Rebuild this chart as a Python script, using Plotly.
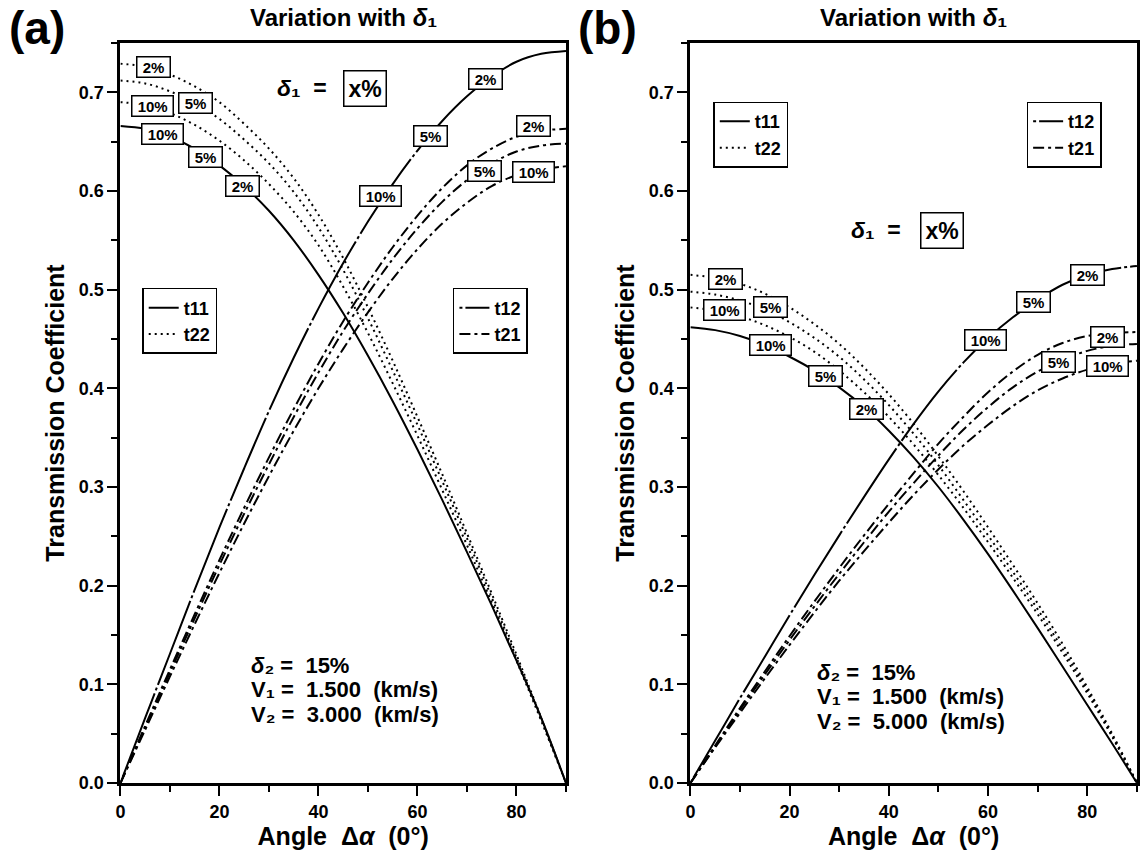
import plotly.graph_objects as go

ANG = [0, 5, 10, 15, 20, 25, 30, 35, 40, 45, 50, 55, 60, 65, 70, 75, 80, 85, 90]

# ---- panel (a): V1 = 1.5, V2 = 3.0 ----
A_T11 = [0.666, 0.663, 0.655, 0.643, 0.626, 0.605, 0.580, 0.550, 0.515, 0.476, 0.433, 0.387, 0.338, 0.287, 0.234, 0.180, 0.124, 0.066, 0.0]
A_T22_2 = [0.729, 0.726, 0.718, 0.706, 0.690, 0.668, 0.643, 0.613, 0.576, 0.532, 0.482, 0.428, 0.371, 0.313, 0.253, 0.192, 0.130, 0.066, 0.0]
A_T22_5 = [0.712, 0.709, 0.701, 0.689, 0.673, 0.652, 0.628, 0.599, 0.563, 0.520, 0.471, 0.418, 0.363, 0.306, 0.248, 0.188, 0.127, 0.065, 0.0]
A_T22_10 = [0.690, 0.687, 0.679, 0.667, 0.651, 0.631, 0.607, 0.579, 0.545, 0.503, 0.456, 0.405, 0.352, 0.297, 0.241, 0.183, 0.124, 0.063, 0.0]
A_T12 = [0.0, 0.066, 0.131, 0.196, 0.259, 0.319, 0.377, 0.431, 0.481, 0.527, 0.569, 0.607, 0.641, 0.671, 0.696, 0.716, 0.731, 0.739, 0.742]
A_T21_2 = [0.0, 0.058, 0.115, 0.171, 0.226, 0.279, 0.330, 0.379, 0.425, 0.468, 0.507, 0.543, 0.575, 0.603, 0.626, 0.643, 0.655, 0.661, 0.663]
A_T21_5 = [0.0, 0.056, 0.112, 0.167, 0.221, 0.273, 0.323, 0.371, 0.416, 0.458, 0.496, 0.531, 0.562, 0.589, 0.611, 0.628, 0.640, 0.646, 0.648]
A_T21_10 = [0.0, 0.054, 0.108, 0.161, 0.213, 0.263, 0.311, 0.357, 0.400, 0.440, 0.477, 0.511, 0.541, 0.567, 0.588, 0.605, 0.616, 0.622, 0.625]

# ---- panel (b): V1 = 1.5, V2 = 5.0 ----
B_T11 = [0.462, 0.459, 0.453, 0.444, 0.432, 0.418, 0.401, 0.381, 0.357, 0.330, 0.300, 0.267, 0.232, 0.195, 0.157, 0.118, 0.079, 0.040, 0.0]
B_T22_2 = [0.515, 0.512, 0.506, 0.496, 0.482, 0.465, 0.445, 0.421, 0.394, 0.364, 0.331, 0.296, 0.259, 0.221, 0.182, 0.141, 0.097, 0.050, 0.0]
B_T22_5 = [0.498, 0.495, 0.489, 0.480, 0.467, 0.451, 0.432, 0.409, 0.383, 0.354, 0.322, 0.287, 0.251, 0.214, 0.176, 0.136, 0.094, 0.048, 0.0]
B_T22_10 = [0.482, 0.479, 0.473, 0.464, 0.452, 0.437, 0.418, 0.396, 0.371, 0.343, 0.312, 0.279, 0.244, 0.208, 0.171, 0.132, 0.091, 0.047, 0.0]
B_T12 = [0.0, 0.043, 0.086, 0.128, 0.170, 0.211, 0.251, 0.290, 0.328, 0.364, 0.397, 0.426, 0.451, 0.472, 0.490, 0.505, 0.515, 0.521, 0.524]
B_T21_2 = [0.0, 0.038, 0.076, 0.113, 0.149, 0.184, 0.218, 0.251, 0.283, 0.314, 0.344, 0.371, 0.396, 0.417, 0.434, 0.446, 0.453, 0.456, 0.457]
B_T21_5 = [0.0, 0.037, 0.074, 0.110, 0.145, 0.179, 0.212, 0.244, 0.275, 0.304, 0.332, 0.358, 0.381, 0.401, 0.417, 0.429, 0.438, 0.443, 0.445]
B_T21_10 = [0.0, 0.036, 0.071, 0.106, 0.140, 0.173, 0.205, 0.235, 0.264, 0.292, 0.318, 0.342, 0.363, 0.382, 0.398, 0.410, 0.419, 0.425, 0.428]

# curve labels (text, angle, value)
A_LABELS = [("10%", 8.5, 0.658), ("5%", 17.1, 0.634), ("2%", 24.6, 0.605),
            ("2%", 6.7, 0.726), ("10%", 6.5, 0.686), ("5%", 15.2, 0.689),
            ("10%", 52.5, 0.595), ("5%", 62.6, 0.656), ("2%", 73.7, 0.714),
            ("2%", 83.5, 0.666), ("5%", 73.5, 0.620), ("10%", 83.5, 0.619)]
B_LABELS = [("10%", 16.2, 0.444), ("5%", 27.3, 0.412), ("2%", 35.5, 0.379),
            ("2%", 7.1, 0.511), ("10%", 6.8, 0.479), ("5%", 16.2, 0.482),
            ("10%", 59.4, 0.449), ("5%", 69.2, 0.487), ("2%", 80.1, 0.515),
            ("2%", 84.1, 0.452), ("5%", 74.1, 0.427), ("10%", 84.0, 0.423)]

PARAMS_A = ["<i>δ</i>₂ =  15%", "V₁ =  1.500  (km/s)", "V₂ =  3.000  (km/s)"]
PARAMS_B = ["<i>δ</i>₂ =  15%", "V₁ =  1.500  (km/s)", "V₂ =  5.000  (km/s)"]

FONT = "Liberation Sans, Arial, sans-serif"
DOT = "2px,4px"
T12_DASH = "3px,3px,90px,3px"
T21_DASH = "11px,4px,3px,4px"

fig = go.Figure()


def add_panel(xa, ya, t11, t22s, t12, t21s, leg_l, leg_r):
    fig.add_trace(go.Scatter(x=ANG, y=t11, mode="lines", name="t11", xaxis=xa, yaxis=ya,
                             line=dict(color="black", width=2, shape="spline"),
                             legend=leg_l, showlegend=True))
    for i, s in enumerate(t22s):
        fig.add_trace(go.Scatter(x=ANG, y=s, mode="lines", name="t22", xaxis=xa, yaxis=ya,
                                 line=dict(color="black", width=2, dash=DOT, shape="spline"),
                                 legend=leg_l, showlegend=(i == 0)))
    fig.add_trace(go.Scatter(x=ANG, y=t12, mode="lines", name="t12", xaxis=xa, yaxis=ya,
                             line=dict(color="black", width=2, dash=T12_DASH, shape="spline"),
                             legend=leg_r, showlegend=True))
    for i, s in enumerate(t21s):
        fig.add_trace(go.Scatter(x=ANG, y=s, mode="lines", name="t21", xaxis=xa, yaxis=ya,
                                 line=dict(color="black", width=2, dash=T21_DASH, shape="spline"),
                                 legend=leg_r, showlegend=(i == 0)))


add_panel("x", "y", A_T11, [A_T22_2, A_T22_5, A_T22_10], A_T12,
          [A_T21_2, A_T21_5, A_T21_10], "legend", "legend2")
add_panel("x2", "y2", B_T11, [B_T22_2, B_T22_5, B_T22_10], B_T12,
          [B_T21_2, B_T21_5, B_T21_10], "legend3", "legend4")

ann = []
for labels, xr, yr in ((A_LABELS, "x", "y"), (B_LABELS, "x2", "y2")):
    for txt, ax_, ay_ in labels:
        ann.append(dict(x=ax_, y=ay_, xref=xr, yref=yr, text=" %s " % txt,
                        showarrow=False, xanchor="center", yanchor="middle",
                        font=dict(family=FONT, size=15, color="black", weight="bold"),
                        bgcolor="white", bordercolor="black", borderwidth=1.5, borderpad=1))

BIG = dict(family=FONT, size=23, color="black", weight="bold")
for xr, yr, dx, bx, yv in (("x", "y", 36.6, 49.5, 0.704), ("x2", "y2", 37.4, 50.7, 0.560)):
    ann.append(dict(x=dx, y=yv, xref=xr, yref=yr, showarrow=False, font=BIG,
                    xanchor="center", yanchor="middle",
                    text="<i>δ</i>₁&nbsp; ="))
    ann.append(dict(x=bx, y=yv, xref=xr, yref=yr, showarrow=False, font=BIG,
                    xanchor="center", yanchor="middle",
                    text="x%", bgcolor="white", bordercolor="black",
                    borderwidth=1.5, borderpad=4))

for xr, yr, x0, y0, lines in (("x", "y", 25.9, 0.1195, PARAMS_A), ("x2", "y2", 25.2, 0.1125, PARAMS_B)):
    for k, ln in enumerate(lines):
        ann.append(dict(x=x0, y=y0 - k * 0.025, xref=xr, yref=yr, showarrow=False,
                        xanchor="left", yanchor="middle",
                        font=dict(family=FONT, size=22, color="black", weight="bold"),
                        text=ln.replace("  ", "&nbsp; ")))

for cx in (0.2982, 0.8009):
    ann.append(dict(x=cx, y=1.034, xref="paper", yref="paper", showarrow=False,
                    xanchor="center", yanchor="middle",
                    font=dict(family=FONT, size=24, color="black", weight="bold"),
                    text="Variation with <i>δ</i>₁"))
ann.append(dict(x=0.028, y=1.02, xref="paper", yref="paper", showarrow=False,
                xanchor="center", yanchor="middle",
                font=dict(family=FONT, size=46, color="black", weight="bold"), text="(a)"))
ann.append(dict(x=0.531, y=1.02, xref="paper", yref="paper", showarrow=False,
                xanchor="center", yanchor="middle",
                font=dict(family=FONT, size=46, color="black", weight="bold"), text="(b)"))

axis_common = dict(showgrid=False, zeroline=False, showline=True, linecolor="black", linewidth=3,
                   mirror=True, ticks="outside", ticklen=10, tickwidth=2, tickcolor="black",
                   tickfont=dict(family=FONT, size=18, color="black", weight="bold"))
xcommon = dict(axis_common, range=[0, 90], dtick=20, tick0=0,
               minor=dict(dtick=10, ticks="outside", ticklen=6, tickwidth=1.5, tickcolor="black"),
               title=dict(text="Angle&nbsp; Δ<i>α</i>&nbsp; (0°)", standoff=4,
                          font=dict(family=FONT, size=25, color="black", weight="bold")))
ycommon = dict(axis_common, range=[0, 0.75], dtick=0.1, tick0=0, tickformat=".1f",
               minor=dict(dtick=0.05, ticks="outside", ticklen=6, tickwidth=1.5, tickcolor="black"),
               title=dict(text="Transmission Coefficient", standoff=8,
                          font=dict(family=FONT, size=25, color="black", weight="bold")))

leg_style = dict(bgcolor="white", bordercolor="black", borderwidth=1.5,
                 font=dict(family=FONT, size=18, color="black", weight="bold"),
                 xanchor="left", yanchor="top", tracegroupgap=0, itemwidth=30)

fig.update_layout(
    width=1140, height=867, autosize=False,
    paper_bgcolor="white", plot_bgcolor="white",
    margin=dict(l=0, r=0, t=43, b=84),
    font=dict(family=FONT, color="black"),
    xaxis=dict(xcommon, domain=[0.1018, 0.4947], anchor="y"),
    yaxis=dict(ycommon, domain=[0, 1], anchor="x"),
    xaxis2=dict(xcommon, domain=[0.6044, 0.9982], anchor="y2"),
    yaxis2=dict(ycommon, domain=[0, 1], anchor="x2"),
    legend=dict(leg_style, x=0.121, y=0.669),
    legend2=dict(leg_style, x=0.395, y=0.669),
    legend3=dict(leg_style, x=0.6246, y=0.9208),
    legend4=dict(leg_style, x=0.9009, y=0.9208),
    annotations=ann,
)

fig.write_html("out.html")
